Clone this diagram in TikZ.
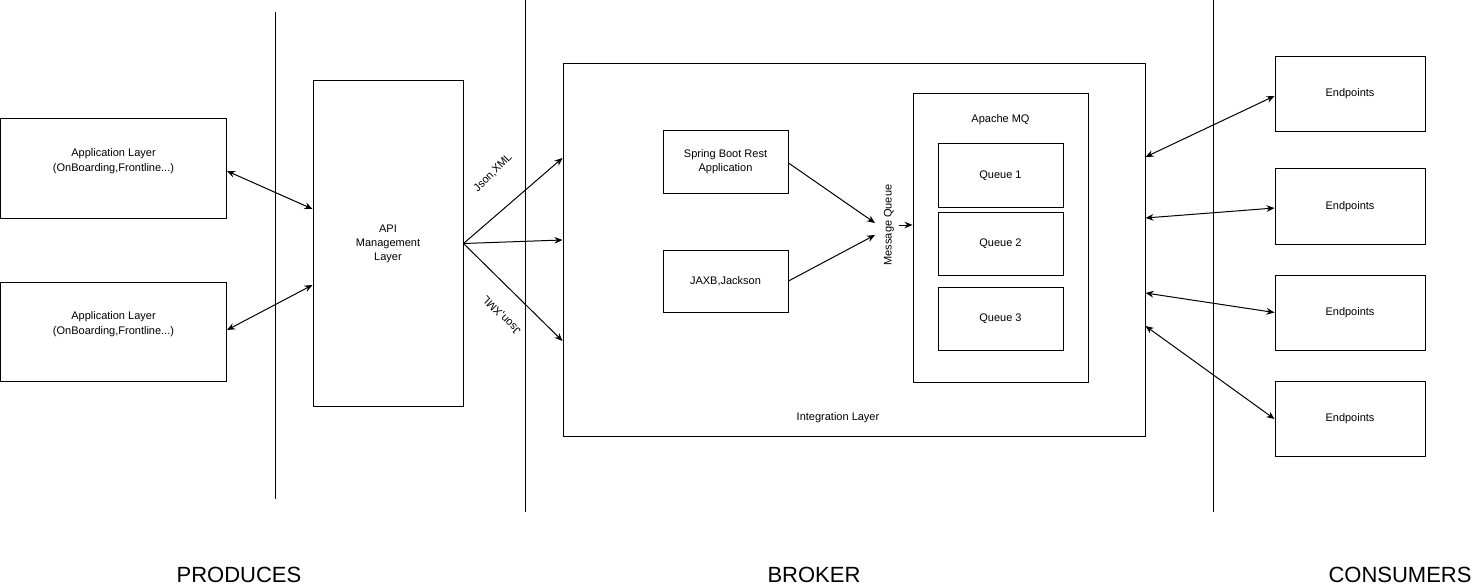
\documentclass[tikz,border=0pt]{standalone}
\usepackage{fontspec}
\setmainfont{Liberation Sans}
\usetikzlibrary{arrows.meta,calc}

\begin{document}
\begin{tikzpicture}[
    x=0.75pt, y=-0.75pt,   % une unité = un pixel
    line width=0.75pt,
    every node/.style={font=\fontsize{8.25}{10.5}\selectfont, align=center},
    boite/.style={draw, rectangle, inner sep=0pt},
    appli/.style={boite, minimum width=169.5pt, minimum height=74.25pt},
    petite/.style={boite, minimum width=93.75pt, minimum height=46.5pt},
    sortie/.style={boite, minimum width=112.5pt, minimum height=56.25pt},
    fleche/.style={->, >={Stealth[length=6pt,width=5pt]}},
    bifleche/.style={<->, >={Stealth[length=6pt,width=5pt]}},
    pied/.style={font=\fontsize{16.5}{20}\selectfont}
]
\useasboundingbox (0,0) rectangle (1473,588);

% Séparateurs
\draw (275,12) -- (275,499);
\draw (525,0) -- (525,512);
\draw (1213,0) -- (1213,512);

% Producteurs
\node[appli] (app1) at (113.5,168.5) {};
\node[font=\fontsize{8.25}{11.25}\selectfont] (app1txt) at (113.5,161) {Application Layer\\(OnBoarding,Frontline...)};
\node[appli] (app2) at (113.5,331.5) {};
\node[font=\fontsize{8.25}{11.25}\selectfont] (app2txt) at (113.5,324) {Application Layer\\(OnBoarding,Frontline...)};
\node[boite, minimum width=112.5pt, minimum height=243.75pt] (api) at (388,243.5) {API\\Management\\Layer};

% Courtier
\node[boite, minimum width=436.5pt, minimum height=279pt] (integ) at (854,250) {};
\node (integtxt) at (838,418) {Integration Layer};
\node[petite] (spring) at (725.5,162) {Spring Boot Rest\\Application};
\node[petite] (jaxb) at (725.5,281) {JAXB,Jackson};
\node[boite, minimum width=131.25pt, minimum height=216pt] (apache) at (1000.5,238) {};
\node (apachetxt) at (1000.5,120) {Apache MQ};
\node[petite, minimum height=47.25pt] (q1) at (1000.5,175.5) {Queue 1};
\node[petite, minimum height=47.25pt] (q2) at (1000.5,243.5) {Queue 2};
\node[petite, minimum height=47.25pt] (q3) at (1000.5,318.5) {Queue 3};
\node[rotate=90] (msgq) at (889,225) {Message Queue};
\coordinate (mqa) at (875,223);
\coordinate (mqb) at (875,235);

% Consommateurs
\node[sortie] (ep1) at (1350,94) {Endpoints};
\node[sortie] (ep2) at (1350,206.5) {Endpoints};
\node[sortie] (ep3) at (1350,312.5) {Endpoints};
\node[sortie] (ep4) at (1350,419) {Endpoints};

% Liaisons
\draw[bifleche] ($(app1.east)+(0,2.5)$) -- ($(api.west)+(0,-34.5)$);
\draw[bifleche] ($(app2.east)+(0,-1.5)$) -- ($(api.west)+(0,41.5)$);
\draw[fleche] (api.east) -- ($(integ.west)+(0,-92)$);
\draw[fleche] (api.east) -- ($(integ.west)+(0,-10)$);
\draw[fleche] (api.east) -- ($(integ.west)+(0,91)$);
\node[rotate=45] (json1) at (493,173) {Json,XML};
\node[rotate=135] (json2) at (502,315) {Json,XML};
\draw[fleche] ($(spring.east)+(0,1)$) -- (mqa);
\draw[fleche] (jaxb.east) -- (mqb);
\draw[fleche] (msgq.south) -- (msgq.south -| apache.west);
\draw[bifleche] ($(integ.east)+(0,-93)$) -- ($(ep1.west)+(0,2)$);
\draw[bifleche] ($(integ.east)+(0,-32)$) -- ($(ep2.west)+(0,1.5)$);
\draw[bifleche] ($(integ.east)+(0,43)$) -- (ep3.west);
\draw[bifleche] ($(integ.east)+(0,76)$) -- (ep4.west);

% Légendes
\node[pied] (prod) at (239,575) {PRODUCES};
\node[pied] (brok) at (814,575) {BROKER};
\node[pied] (cons) at (1400,575) {CONSUMERS};
\end{tikzpicture}
\end{document}
